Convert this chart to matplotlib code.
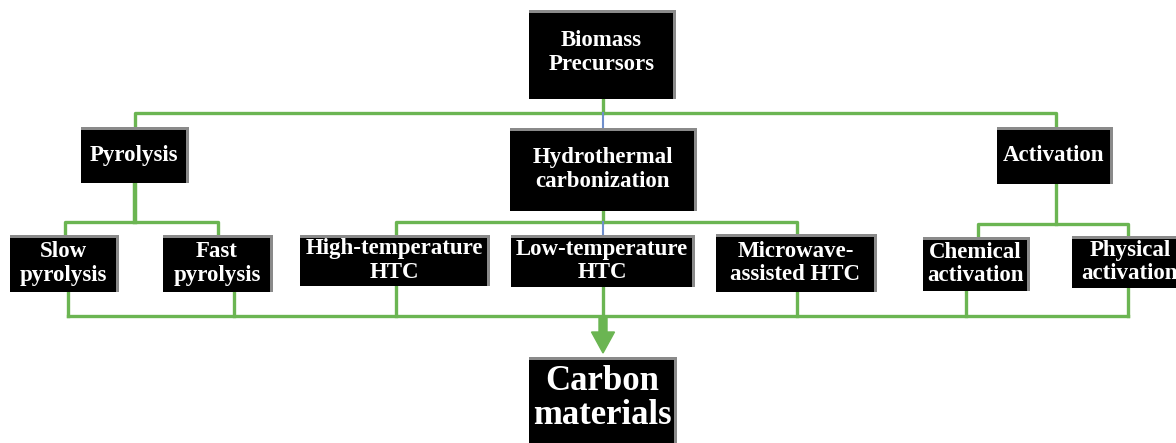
import matplotlib.pyplot as plt
from matplotlib.patches import Rectangle, FancyArrow

# node labels
root_label = "Biomass\nPrecursors"
method_labels = ["Pyrolysis", "Hydrothermal\ncarbonization", "Activation"]
sub_labels = ["Slow\npyrolysis", "Fast\npyrolysis",
              "High-temperature\nHTC", "Low-temperature\nHTC", "Microwave-\nassisted HTC",
              "Chemical\nactivation", "Physical\nactivation"]
product_label = "Carbon\nmaterials"

# layout in pixel coords (x0, y0, x1, y1), y going down
root_box = (529, 10, 676, 99)
method_boxes = [(81, 127, 189, 183), (510, 128, 697, 211), (997, 127, 1113, 184)]
sub_boxes = [(10, 235, 119, 292), (163, 235, 273, 292),
             (300, 235, 490, 286), (511, 235, 695, 287), (716, 234, 877, 292),
             (923, 237, 1030, 291), (1072, 236, 1190, 288)]
product_box = (529, 357, 677, 460)

GREEN = "#6bb552"
BLUE = "#6f8fcc"

fig = plt.figure(figsize=(11.76, 4.43), dpi=100)
ax = fig.add_axes([0, 0, 1, 1])
ax.set_xlim(0, 1176)
ax.set_ylim(443, 0)
ax.axis("off")


def box(b, label, size, dy=0, ls=1.15):
    x0, y0, x1, y1 = b
    # bevel: gray frame, black face
    ax.add_patch(Rectangle((x0, y0), x1 - x0, y1 - y0, facecolor="#8a8a8a",
                           edgecolor="none", zorder=3))
    ax.add_patch(Rectangle((x0, y0 + 3), x1 - x0 - 3, y1 - y0 - 3,
                           facecolor="black", edgecolor="none", zorder=4))
    ax.text((x0 + x1) / 2 - 1, (y0 + y1) / 2 + dy, label, color="white", ha="center",
            va="center", fontsize=size, fontweight="bold", family="Liberation Serif",
            linespacing=ls, zorder=5, clip_on=True)


def line(xs, ys, color=GREEN, lw=2.4):
    ax.plot(xs, ys, color=color, lw=lw, solid_capstyle="projecting", zorder=2)


# root -> methods
line([603, 603], [99, 113])
line([135, 135, 1056, 1056], [127, 113, 113, 127])
line([603, 603], [113, 128], color=BLUE, lw=1.5)

# pyrolysis branch
line([135, 135], [183, 222], lw=3.2)
line([65, 65, 218, 218], [235, 222, 222, 235])

# HTC branch
line([603, 603], [211, 222])
line([396, 396, 797, 797], [235, 222, 222, 234])
line([603, 603], [222, 235], color=BLUE, lw=1.5)

# activation branch
line([1056, 1056], [184, 224])
line([978, 978, 1128, 1128], [237, 224, 224, 236])

# sub-methods -> collector
for xc, yb in zip([68, 234, 396, 603, 797, 966, 1128],
                  [292, 292, 286, 287, 292, 291, 288]):
    line([xc, xc], [yb, 316])
line([68, 1128], [316, 316])

ax.add_patch(FancyArrow(603, 316, 0, 37, width=8, head_width=23, head_length=21,
                        length_includes_head=True, color=GREEN, zorder=2))

box(root_box, root_label, 16.5, dy=-2)
for b, lab in zip(method_boxes, method_labels):
    box(b, lab, 16.5)
for b, lab in zip(sub_boxes, sub_labels):
    box(b, lab, 16.5)
box(product_box, product_label, 25, dy=-10, ls=1.08)

fig.savefig("out.png", dpi=100)
